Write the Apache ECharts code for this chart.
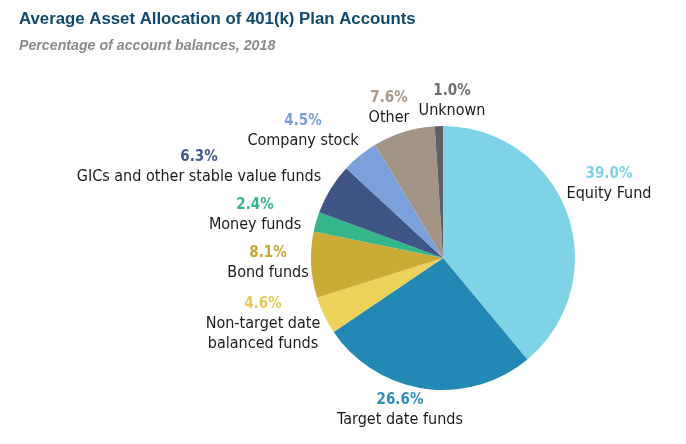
<!DOCTYPE html>
<html><head><meta charset="utf-8">
<script src="https://cdn.jsdelivr.net/npm/echarts@6/dist/echarts.min.js"></script>
<style>html,body{margin:0;padding:0;background:#fff}#c{width:686px;height:444px}</style>
</head><body><div id="c"></div>
<script>
const categories = ["Equity Fund","Target date funds","Non-target date\nbalanced funds","Bond funds","Money funds","GICs and other stable value funds","Company stock","Other","Unknown"];
const values = [39.0,26.6,4.6,8.1,2.4,6.3,4.5,7.6,1.0];
const sliceColors = ["#7fd3e6","#2189b4","#ecd15b","#c9ab36","#35b58a","#3e5585","#7ca0db","#a39585","#5e6064"];
const pctColors = ["#7fd3e6","#2e8fbf","#e8c95a","#c9a535","#3ab58a","#3f5a8c","#7b9fdb","#a89888","#707070"];
const labelPos = [[609,184],[400,410],[263,324],[268,263],[255,215],[199,167],[303,131],[389,108],[452,101]];

const chart = echarts.init(document.getElementById('c'));
const FONT = "'DejaVu Sans Condensed', 'Liberation Sans Narrow', sans-serif";
chart.setOption({
  animation:false,
  title:[{text:"Average Asset Allocation of 401(k) Plan Accounts",left:14,top:6,textStyle:{fontFamily:"Arial, 'Liberation Sans'",fontSize:16.8,fontWeight:'bold',color:'#0f4a6e'}},
         {text:"Percentage of account balances, 2018",left:14,top:34,textStyle:{fontFamily:"Arial, 'Liberation Sans'",fontSize:14.2,fontWeight:'bold',fontStyle:'italic',color:'#8a8a8a'}}],
  series:[{
    type:'pie',
    center:[443,258],
    radius:132,
    startAngle:90,
    clockwise:true,
    labelLine:{show:false},
    data: categories.map((n,i)=>({
      name:n, value:values[i],
      itemStyle:{color:sliceColors[i]},
      label:{
        formatter: '{p|'+values[i].toFixed(1)+'%}\n'+n.split('\n').map(s=>'{n|'+s+'}').join('\n'),
        rich:{p:{color:pctColors[i],fontFamily:FONT,fontSize:15,fontWeight:'bold',lineHeight:20,align:'center'},
              n:{color:'#1a1a1a',fontFamily:FONT,fontSize:16,lineHeight:20,align:'center'}}
      }
    })),
    label:{show:true,position:'outside',overflow:'none'},
    labelLayout:function(p){const q=labelPos[p.dataIndex];return {x:q[0],y:q[1],align:'center',verticalAlign:'middle'};}
  }]
});
</script></body></html>
